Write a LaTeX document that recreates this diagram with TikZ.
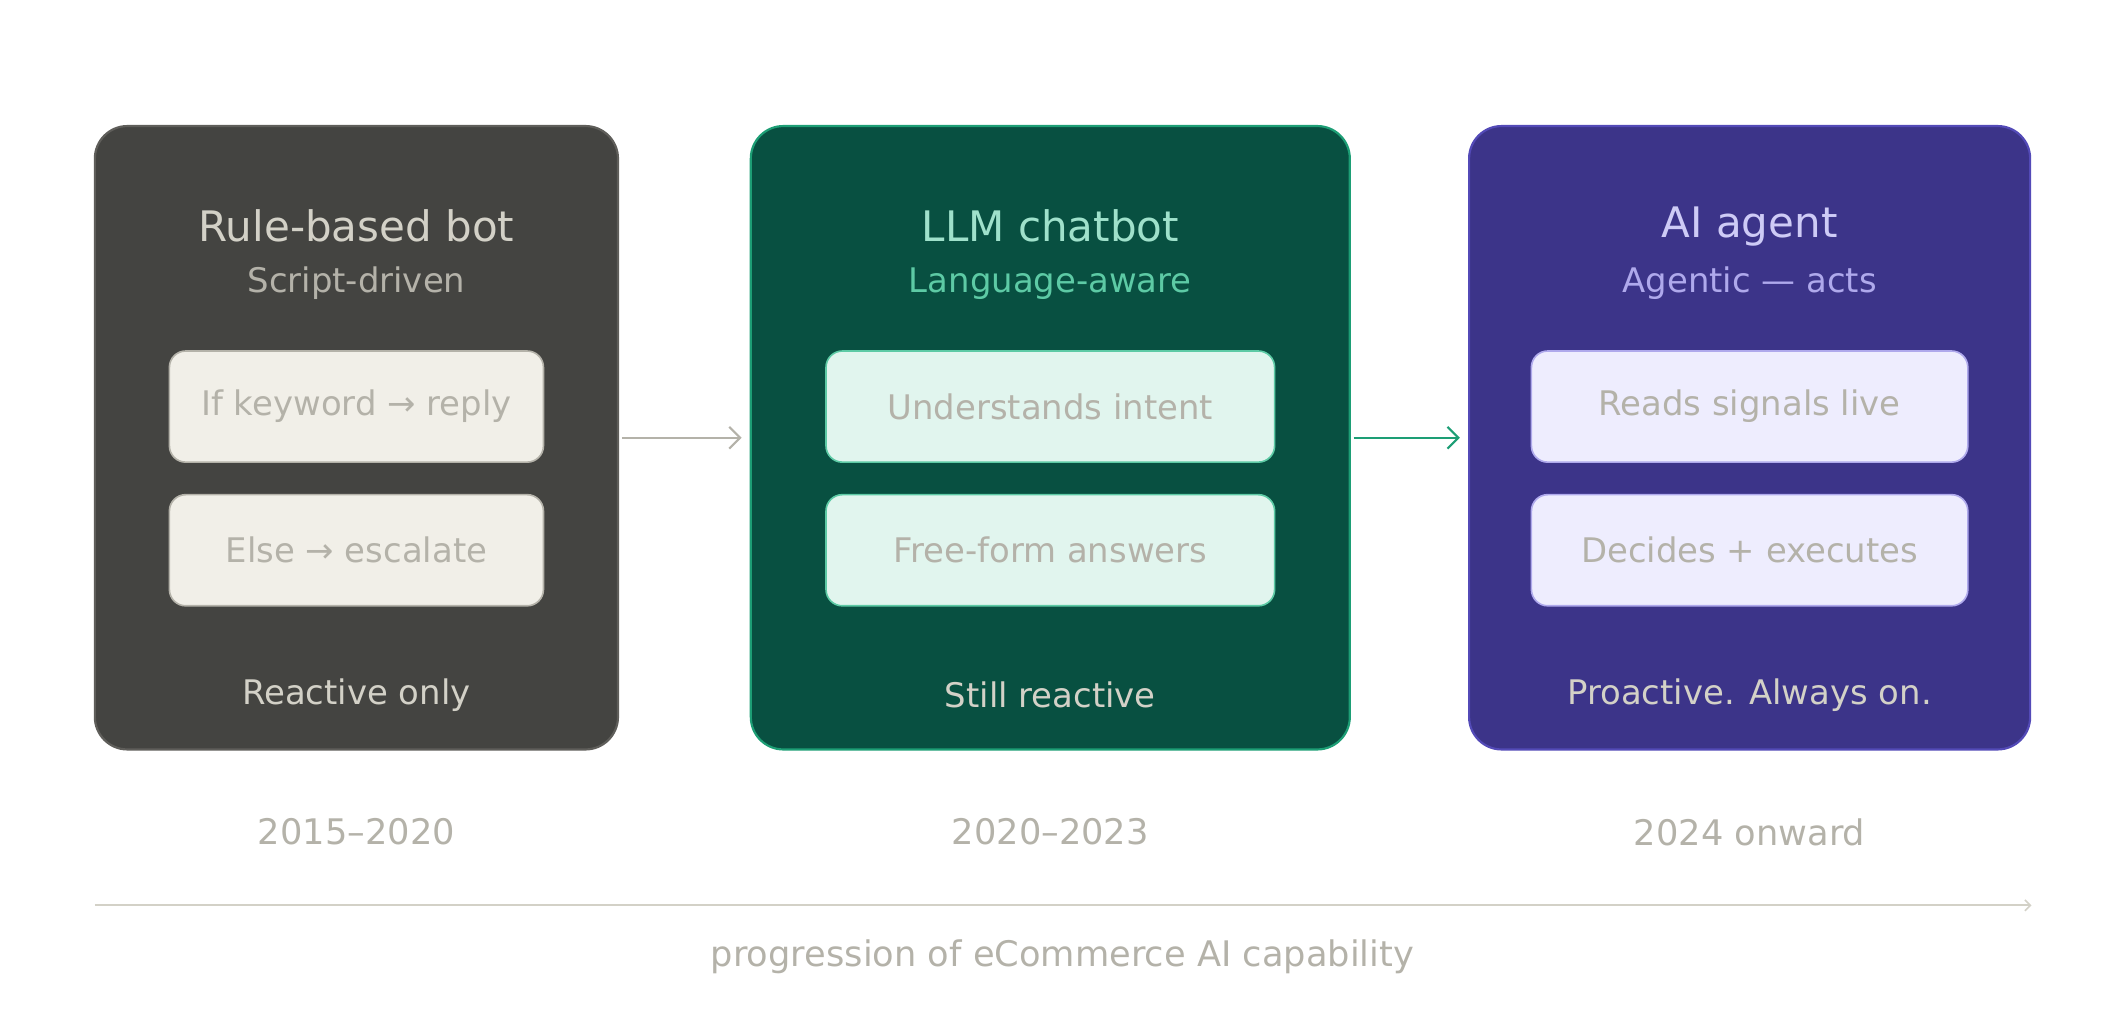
\documentclass[tikz,border=0pt]{standalone}
\usepackage{fontspec}
\setmainfont{DejaVu Sans}
\usetikzlibrary{arrows.meta}
\definecolor{gA}{HTML}{444441}\definecolor{gAb}{HTML}{5F5E5A}
\definecolor{gT}{HTML}{D3D1C7}\definecolor{gS}{HTML}{B4B2A9}\definecolor{gI}{HTML}{F1EFE8}
\definecolor{tA}{HTML}{085041}\definecolor{tAb}{HTML}{1D9E75}
\definecolor{tT}{HTML}{9FE1CB}\definecolor{tS}{HTML}{5DCAA5}\definecolor{tI}{HTML}{E1F5EE}
\definecolor{pA}{HTML}{3C3489}\definecolor{pAb}{HTML}{534AB7}
\definecolor{pT}{HTML}{CECBF6}\definecolor{pS}{HTML}{AFA9EC}\definecolor{pI}{HTML}{EEEDFE}
\begin{document}
\begin{tikzpicture}[x=0.5pt,y=-0.5pt,
 card/.style={draw,line width=0.8pt,rounded corners=12pt,inner sep=0},
 inner/.style={draw,line width=0.6pt,rounded corners=6pt,inner sep=0},
 ttl/.style={font=\fontsize{15.5}{18}\selectfont},
 sub/.style={font=\fontsize{12.5}{15}\selectfont},
 itx/.style={font=\fontsize{12.5}{15}\selectfont,text=gS},
 btx/.style={font=\fontsize{12.5}{15}\selectfont,text=gT},
 yr/.style={font=\fontsize{13}{15}\selectfont,text=gS}]
\useasboundingbox (0,0) rectangle (1568,761);
% cards
\node[card,fill=gA,draw=gAb,minimum width=193pt,minimum height=230pt] (c1) at (263,323) {};
\node[card,fill=tA,draw=tAb,minimum width=221pt,minimum height=230pt] (c2) at (775,323) {};
\node[card,fill=pA,draw=pAb,minimum width=207pt,minimum height=230pt] (c3) at (1291,323) {};
% titles
\node[ttl,text=gT] (t1) at (263,167) {Rule-based bot};
\node[sub,text=gS] (s1) at (263,209) {Script-driven};
\node[ttl,text=tT] (t2) at (775,167) {LLM chatbot};
\node[sub,text=tS] (s2) at (775,209) {Language-aware};
\node[ttl,text=pT] (t3) at (1291,167) {AI agent};
\node[sub,text=pS] (s3) at (1291,209) {Agentic — acts};
% inner boxes
\node[inner,fill=gI,draw=gS,minimum width=138pt,minimum height=41pt,itx] (a1) at (263,300) {If keyword → reply};
\node[inner,fill=gI,draw=gS,minimum width=138pt,minimum height=41pt,itx] (a2) at (263,406) {Else → escalate};
\node[inner,fill=tI,draw=tS,minimum width=165.5pt,minimum height=41pt,itx] (b1) at (775,300) {Understands intent};
\node[inner,fill=tI,draw=tS,minimum width=165.5pt,minimum height=41pt,itx] (b2) at (775,406) {Free-form answers};
\node[inner,fill=pI,draw=pS,minimum width=161pt,minimum height=41pt,itx] (d1) at (1291,300) {Reads signals live};
\node[inner,fill=pI,draw=pS,minimum width=161pt,minimum height=41pt,itx] (d2) at (1291,406) {Decides + executes};
% bottom text
\node[btx] (r1) at (263,513) {Reactive only};
\node[btx] (r2) at (775,513) {Still reactive};
\node[btx] (r3) at (1291,513) {Proactive. Always on.};
% arrows
\draw[gS,line width=0.8pt,-{Straight Barb[length=4pt,width=8pt]}] (c1.east) ++(2,0) -- ([xshift=-3pt]c2.west);
\draw[tAb,line width=0.8pt,-{Straight Barb[length=4pt,width=8pt]}] (c2.east) ++(2,0) -- ([xshift=-3pt]c3.west);
% years
\node[yr] (y1) at (263,614) {2015–2020};
\node[yr] (y2) at (775,614) {2020–2023};
\node[yr] (y3) at (1291,614) {2024 onward};
% axis
\coordinate (ax0) at (70,668);
\coordinate (ax1) at (1499,668);
\draw[gT,line width=0.6pt,-{Straight Barb[length=2pt,width=4pt]}] (ax0) -- (ax1);
\node[yr] (cap) at (784,706) {progression of eCommerce AI capability};
\end{tikzpicture}
\end{document}
